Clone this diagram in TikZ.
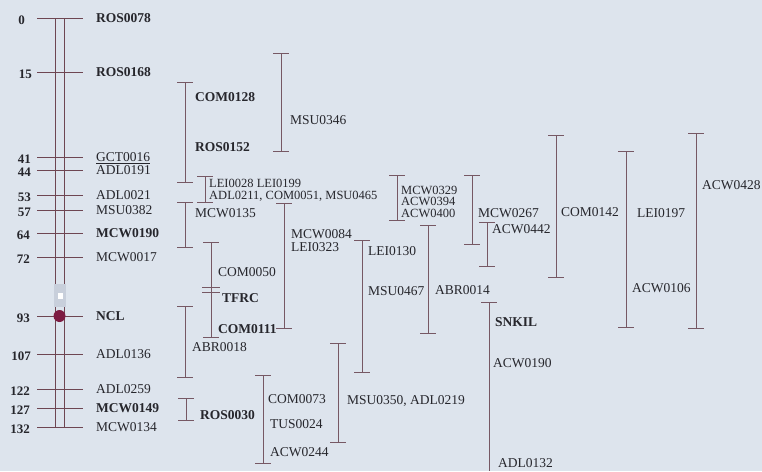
\documentclass[tikz,border=0pt]{standalone}
\usepackage{fontspec}
\setmainfont{Liberation Serif}
\definecolor{bgc}{RGB}{221,228,237}
\definecolor{barc}{RGB}{118,88,100}
\definecolor{chrc}{RGB}{110,70,82}
\definecolor{txt}{RGB}{38,38,44}
\definecolor{ncl}{RGB}{125,28,66}
\definecolor{blk}{RGB}{200,207,219}
\newcommand\Ivl[4]{%
  \coordinate (#1t) at (#2,#3);
  \coordinate (#1b) at (#2,#4);
  \draw[bar] (#1t) -- (#1b);
  \draw[bar] ([xshift=-8pt]#1t) -- ([xshift=8pt]#1t);
  \draw[bar] ([xshift=-8pt]#1b) -- ([xshift=8pt]#1b);}
\newcommand\Tick[6]{% name, y, number, label, style, number x
  \coordinate (#1l) at (37,#2);
  \coordinate (#1r) at (83,#2);
  \draw[chr] (#1l) -- (#1r);
  \node[num] (#1n) at (#6,#2+2) {#3};
  \node[#5] (#1m) at (96,#2) {#4};}
\begin{document}
\begin{tikzpicture}[x=1pt,y=-1pt,
  bar/.style={draw=barc, line width=0.9pt},
  chr/.style={draw=chrc, line width=0.9pt},
  lbl/.style={anchor=west, inner sep=0pt, text height=9pt, text depth=0pt, text=txt, font=\fontsize{13.5}{14}\selectfont},
  blbl/.style={lbl, font=\fontsize{13.5}{14}\selectfont\bfseries},
  slbl/.style={lbl, text height=8pt, font=\fontsize{12.5}{13}\selectfont},
  num/.style={anchor=east, inner sep=0pt, text height=9pt, text depth=0pt, text=txt, font=\fontsize{13}{14}\selectfont\bfseries}]
\fill[bgc] (0,0) rectangle (762,471);
\useasboundingbox (0,0) rectangle (762,471);
% chromosome
\coordinate (c1t) at (55,18); \coordinate (c1b) at (55,427);
\coordinate (c2t) at (64,18); \coordinate (c2b) at (64,427);
\draw[chr] (c1t) -- (c1b);
\draw[chr] (c2t) -- (c2b);
\fill[blk] (54,284) rectangle (66,307);
\fill[white] (58,293) rectangle (63,299);
\Tick{k0}{18}{0}{ROS0078}{blbl}{25}
\Tick{k15}{72}{15}{ROS0168}{blbl}{32}
\Tick{k41}{157}{41}{\underline{GCT0016}}{lbl}{31}
\Tick{k44}{170}{44}{ADL0191}{lbl}{31}
\Tick{k53}{195}{53}{ADL0021}{lbl}{31}
\Tick{k57}{210}{57}{MSU0382}{lbl}{31}
\Tick{k64}{233}{64}{MCW0190}{blbl}{30}
\Tick{k72}{257}{72}{MCW0017}{lbl}{30}
\Tick{k93}{316}{93}{NCL}{blbl}{30}
\Tick{k107}{354}{107}{ADL0136}{lbl}{31}
\Tick{k122}{389}{122}{ADL0259}{lbl}{30}
\Tick{k127}{408}{127}{MCW0149}{blbl}{30}
\Tick{k132}{427}{132}{MCW0134}{lbl}{30}
\fill[ncl] (59.5,316) circle (6);
% intervals
\Ivl{b1}{185}{82}{182}
\Ivl{b2}{281}{53}{151}
\Ivl{b3}{205}{176}{202}
\Ivl{b4}{185}{202}{247}
\Ivl{b5}{284}{203}{328}
\Ivl{b6}{211}{242}{337}
\coordinate (b6m1) at (211,287); \coordinate (b6m2) at (211,292);
\draw[bar] ([xshift=-9pt]b6m1) -- ([xshift=9pt]b6m1);
\draw[bar] ([xshift=-9pt]b6m2) -- ([xshift=9pt]b6m2);
\Ivl{b7}{185}{306}{377}
\Ivl{b8}{186}{398}{420}
\Ivl{b9}{263}{375}{463}
\Ivl{b10}{338}{343}{442}
\Ivl{b11}{362}{240}{372}
\Ivl{b13}{397}{175}{220}
\Ivl{b14}{428}{225}{333}
\Ivl{b15}{472}{175}{244}
\Ivl{b16}{487}{222}{266}
\Ivl{b17}{556}{135}{277}
\Ivl{b18}{626}{151}{327}
\Ivl{b19}{696}{133}{328}
\coordinate (b20t) at (489,302); \coordinate (b20b) at (489,471);
\draw[bar] (b20t) -- (b20b);
\draw[bar] ([xshift=-8pt]b20t) -- ([xshift=8pt]b20t);
% interval labels
\node[blbl] (t1) at (195,97) {COM0128};
\node[blbl] (t2) at (195,147) {ROS0152};
\node[lbl] (t3) at (290,120) {MSU0346};
\node[slbl] (t4) at (209,183) {LEI0028 LEI0199};
\node[slbl] (t5) at (209,195) {ADL0211, COM0051, MSU0465};
\node[lbl] (t6) at (195,213) {MCW0135};
\node[lbl] (t7) at (218,272) {COM0050};
\node[blbl] (t8) at (222,298) {TFRC};
\node[blbl] (t9) at (218,329) {COM0111};
\node[lbl] (t10) at (192,347) {ABR0018};
\node[blbl] (t11) at (200,415) {ROS0030};
\node[lbl] (t12) at (268,399) {COM0073};
\node[lbl] (t13) at (270,424) {TUS0024};
\node[lbl] (t14) at (270,452) {ACW0244};
\node[lbl] (t15) at (347,400) {MSU0350, ADL0219};
\node[lbl] (t16) at (291,234) {MCW0084};
\node[lbl] (t17) at (291,247) {LEI0323};
\node[lbl] (t18) at (368,251) {LEI0130};
\node[lbl] (t19) at (368,291) {MSU0467};
\node[slbl] (t20) at (401,190) {MCW0329};
\node[slbl] (t21) at (401,201.5) {ACW0394};
\node[slbl] (t22) at (401,213) {ACW0400};
\node[lbl] (t23) at (435,290) {ABR0014};
\node[lbl] (t24) at (478,213) {MCW0267};
\node[lbl] (t25) at (492,229) {ACW0442};
\node[lbl] (t26) at (561,212) {COM0142};
\node[lbl] (t27) at (637,213) {LEI0197};
\node[lbl] (t28) at (632,288) {ACW0106};
\node[lbl] (t29) at (702,185) {ACW0428};
\node[blbl] (t30) at (495,322) {SNKIL};
\node[lbl] (t31) at (493,363) {ACW0190};
\node[lbl] (t32) at (498,463) {ADL0132};
\end{tikzpicture}
\end{document}
